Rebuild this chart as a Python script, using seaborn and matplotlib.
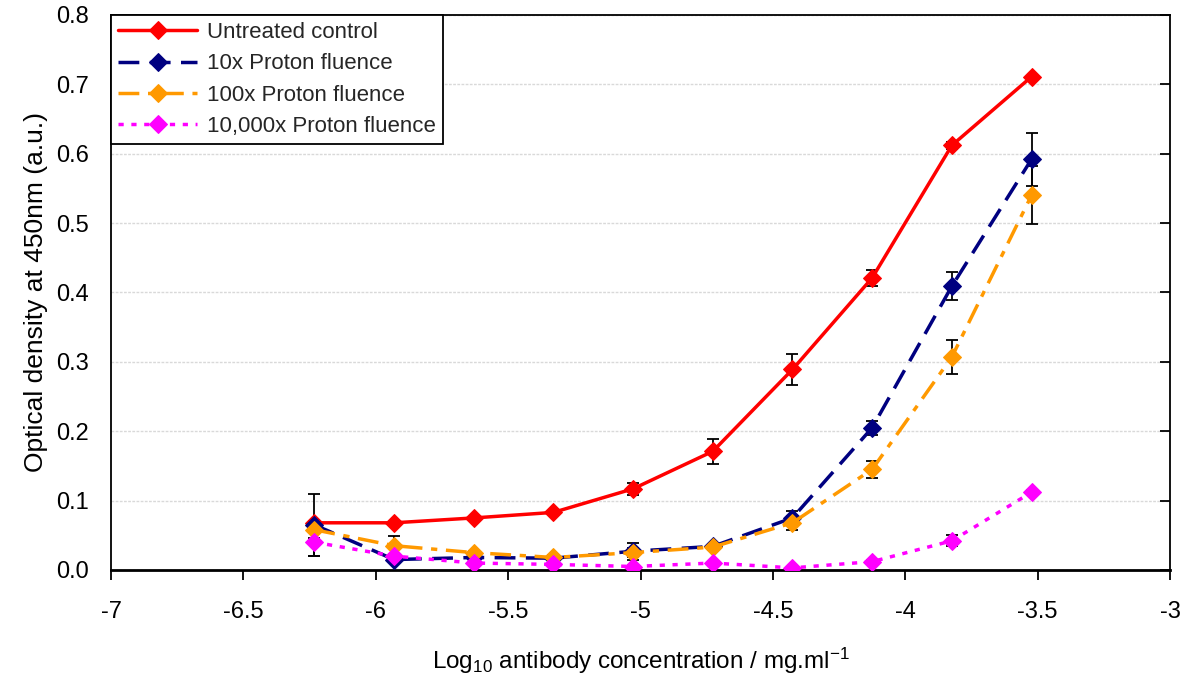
import numpy as np
import pandas as pd
import matplotlib
matplotlib.use("Agg")
import matplotlib.pyplot as plt
import seaborn as sns

# ---- data ----
log_conc = [-6.232, -5.931, -5.630, -5.329, -5.028, -4.727, -4.426, -4.125, -3.824, -3.523]

series_names = ["Untreated control", "10x Proton fluence", "100x Proton fluence", "10,000x Proton fluence"]

od_control = [0.068, 0.068, 0.075, 0.083, 0.117, 0.171, 0.289, 0.421, 0.612, 0.711]
od_10x     = [0.065, 0.015, 0.018, 0.017, 0.027, 0.034, 0.075, 0.205, 0.409, 0.592]
od_100x    = [0.058, 0.035, 0.025, 0.018, 0.025, 0.033, 0.068, 0.145, 0.307, 0.540]
od_10000x  = [0.040, 0.020, 0.010, 0.008, 0.005, 0.010, 0.003, 0.012, 0.042, 0.112]

err_control = [0.000, 0.000, 0.000, 0.000, 0.009, 0.018, 0.023, 0.012, 0.005, 0.000]
err_10x     = [0.045, 0.004, 0.003, 0.003, 0.012, 0.004, 0.010, 0.010, 0.020, 0.038]
err_100x    = [0.012, 0.014, 0.003, 0.003, 0.006, 0.004, 0.010, 0.012, 0.025, 0.042]
err_10000x  = [0.020, 0.003, 0.002, 0.002, 0.002, 0.002, 0.002, 0.003, 0.008, 0.003]

x_ticks = [-7, -6.5, -6, -5.5, -5, -4.5, -4, -3.5, -3]
x_tick_labels = ["-7", "-6.5", "-6", "-5.5", "-5", "-4.5", "-4", "-3.5", "-3"]
y_ticks = [0.0, 0.1, 0.2, 0.3, 0.4, 0.5, 0.6, 0.7, 0.8]
y_tick_labels = ["0.0", "0.1", "0.2", "0.3", "0.4", "0.5", "0.6", "0.7", "0.8"]

colors = ["#FF0000", "#000080", "#FF9900", "#FF00FF"]
dash_styles = [None, (6, 3), (6, 2.5, 1.8, 2.5), (1.5, 2.2)]

# ---- style ----
sns.set_theme(style="white")
plt.rcParams["font.family"] = ["Liberation Sans", "DejaVu Sans"]
plt.rcParams["mathtext.fontset"] = "custom"
plt.rcParams["mathtext.rm"] = "Liberation Sans"
plt.rcParams["mathtext.it"] = "Liberation Sans"
plt.rcParams["mathtext.bf"] = "Liberation Sans"

fig = plt.figure(figsize=(11.89, 6.75), dpi=100)
ax = fig.add_axes([0.0934, 0.1556, 0.8906, 0.8222])

all_vals = [od_control, od_10x, od_100x, od_10000x]
all_errs = [err_control, err_10x, err_100x, err_10000x]

for name, vals, errs, col, dsh in zip(series_names, all_vals, all_errs, colors, dash_styles):
    ax.errorbar(log_conc, vals, yerr=errs, fmt="none", ecolor="black",
                elinewidth=1.3, capsize=4, capthick=1.3, zorder=2)
    df = pd.DataFrame({"x": log_conc, "y": vals})
    sns.lineplot(data=df, x="x", y="y", color=col, linewidth=2.5, marker="D",
                 markersize=9, markeredgecolor=col, label=name, ax=ax, zorder=3)
    if dsh is not None:
        ax.lines[-1].set_dashes(dsh)

ax.set_xlim(-7, -3)
ax.set_ylim(0, 0.8)
ax.set_xticks(x_ticks)
ax.set_xticklabels(x_tick_labels)
ax.set_yticks(y_ticks)
ax.set_yticklabels(y_tick_labels)

ax.grid(axis="y", color="#d9d9d9", linestyle=(0, (2, 1)), linewidth=1)
ax.grid(axis="x", visible=False)

for sp in ax.spines.values():
    sp.set_visible(True)
    sp.set_color("black")
    sp.set_linewidth(1.3)
ax.spines["bottom"].set_linewidth(2)

ax.tick_params(axis="x", bottom=True, direction="out", length=7, width=1.3,
               color="black", labelsize=17, pad=15, labelcolor="black")
ax.tick_params(axis="y", left=False, right=True, direction="in", length=7, width=1.3,
               color="black", labelleft=True, labelright=False, labelsize=17,
               pad=16, labelcolor="black")

ax.set_xlabel("Log$_{10}$ antibody concentration / mg.ml$^{-1}$", fontsize=17.5,
              labelpad=17, color="black")
ax.set_ylabel("Optical density at 450nm (a.u.)", fontsize=19, labelpad=6, color="black")

leg = ax.legend(loc="upper left", bbox_to_anchor=(0.0, 1.0), fontsize=16,
                frameon=True, fancybox=False, framealpha=1, edgecolor="black",
                handlelength=3.55, borderpad=0.32, labelspacing=0.46, handletextpad=0.45,
                borderaxespad=0, markerscale=1.0)
leg.get_frame().set_linewidth(1.3)

fig.savefig("out.png", dpi=100)
